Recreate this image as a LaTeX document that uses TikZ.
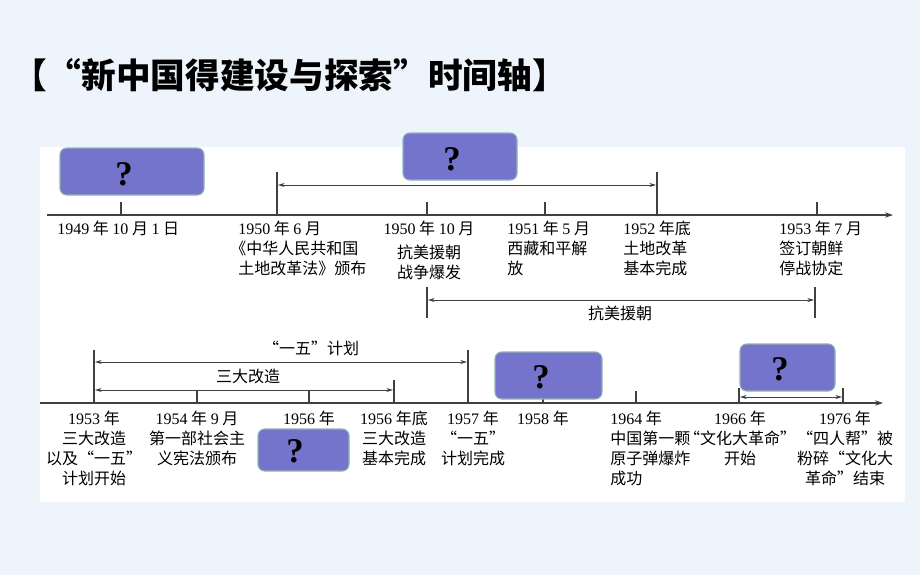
\documentclass[tikz,border=0pt]{standalone}
\usepackage{fontspec}
\setmainfont{Noto Sans CJK SC}
\newfontfamily\tms{Liberation Serif}
\usetikzlibrary{arrows.meta}
\newcommand{\yr}[1]{{\tms #1}}
\begin{document}
\begin{tikzpicture}[x=0.75pt,y=-0.75pt,
  ax/.style={line width=0.8pt,draw=black!75,-{Stealth[length=6pt,width=4pt]}},
  tk/.style={line width=0.8pt,draw=black!75},
  span/.style={line width=0.6pt,draw=black!75,{Stealth[length=5pt,width=3pt]}-{Stealth[length=5pt,width=3pt]}},
  qb/.style={draw=teal!40!gray!60,line width=0.8pt,fill=qcol,rounded corners=5pt},
  qm/.style={font=\tms\bfseries\fontsize{26}{26}\selectfont,inner sep=0pt},
  lb/.style={font=\fontsize{12}{15}\selectfont,inner sep=0pt,align=center,anchor=north},
  lbl/.style={lb,align=left,anchor=north west}]
\definecolor{qcol}{HTML}{7474CC}
\definecolor{bgc}{HTML}{EEF4FC}
\fill[bgc] (0,0) rectangle (920,575);
\fill[white] (40,147) rectangle (905,502);
\useasboundingbox (0,0) rectangle (920,575);
\node[anchor=west,inner sep=0pt,font=\bfseries\fontsize{26}{26}\selectfont] (title) at (12,75) {【“新中国得建设与探索”时间轴】};
% top axis
\coordinate (a1) at (47,215); \coordinate (a2) at (893,215);
\draw[ax] (a1) -- (a2);
\foreach \x in {121,427,545,817} \draw[tk] (\x,202) -- (\x,215);
\draw[tk] (277,172) -- (277,215);
\draw[tk] (657,172) -- (657,215);
\coordinate (s1) at (278,185); \coordinate (s2) at (656,185);
\draw[span] (s1) -- (s2);
\path[qb] (60,148) rectangle (204,195);
\node[qm] (q1t) at (124,174) {?};
\path[qb] (403,133) rectangle (517,180);
\node[qm] (q2t) at (452,159) {?};
\node[lbl] (l1) at (57,221) {\yr{1949} 年 \yr{10} 月 \yr{1} 日};
\node[lbl] (l2) at (230,221) {\hspace*{6pt}\yr{1950} 年 \yr{6} 月\\《中华人民共和国\\\hspace*{6pt}土地改革法》颁布};
\node[lb] (l3) at (429,221) {\yr{1950} 年 \yr{10} 月\\[3pt]抗美援朝\\战争爆发};
\node[lbl] (l4) at (507,221) {\yr{1951} 年 \yr{5} 月\\西藏和平解\\放};
\node[lbl] (l5) at (623,221) {\yr{1952} 年底\\土地改革\\基本完成};
\node[lbl] (l6) at (779,221) {\yr{1953} 年 \yr{7} 月\\签订朝鲜\\停战协定};
\draw[tk] (427,287) -- (427,318);
\draw[tk] (815,287) -- (815,318);
\coordinate (k1) at (428,300); \coordinate (k2) at (814,300);
\draw[span] (k1) -- (k2);
\node[lb,anchor=center] (kl) at (620,313) {抗美援朝};
% bottom axis
\coordinate (b1) at (40,403); \coordinate (b2) at (883,403);
\draw[ax] (b1) -- (b2);
\foreach \x in {197,309,543,636} \draw[tk] (\x,391) -- (\x,403);
\draw[tk] (94,350) -- (94,403);
\draw[tk] (468,350) -- (468,403);
\draw[tk] (394,380) -- (394,403);
\draw[tk] (739,388) -- (739,403);
\draw[tk] (843,388) -- (843,403);
\coordinate (f1) at (95,362); \coordinate (f2) at (467,362);
\draw[span] (f1) -- (f2);
\node[lb,anchor=center] (fl) at (311,348) {“一五”计划};
\coordinate (g1) at (95,390); \coordinate (g2) at (393,390);
\draw[span] (g1) -- (g2);
\node[lb,anchor=center] (gl) at (248,376) {三大改造};
\coordinate (h1) at (740,397); \coordinate (h2) at (842,397);
\draw[span] (h1) -- (h2);
\path[qb] (258,429) rectangle (349,471);
\node[qm] (q3t) at (295,451) {?};
\path[qb] (495,352) rectangle (602,399);
\node[qm] (q4t) at (541,377) {?};
\path[qb] (740,344) rectangle (835,391);
\node[qm] (q5t) at (780,369) {?};
\node[lb] (m1) at (94,411) {\yr{1953} 年\\三大改造\\以及“一五”\\计划开始};
\node[lb] (m2) at (197,411) {\yr{1954} 年 \yr{9} 月\\第一部社会主\\义宪法颁布};
\node[lb] (m3) at (309,411) {\yr{1956} 年};
\node[lb] (m4) at (394,411) {\yr{1956} 年底\\三大改造\\基本完成};
\node[lb] (m5) at (473,411) {\yr{1957} 年\\“一五”\\计划完成};
\node[lb] (m6) at (543,411) {\yr{1958} 年};
\node[lbl] (m7) at (610,411) {\yr{1964} 年\\中国第一颗\\原子弹爆炸\\成功};
\node[lb] (m8) at (740,411) {\yr{1966} 年\\“文化大革命”\\开始};
\node[lb] (m9) at (845,411) {\yr{1976} 年\\“四人帮”被\\粉碎“文化大\\革命”结束};
\end{tikzpicture}
\end{document}
